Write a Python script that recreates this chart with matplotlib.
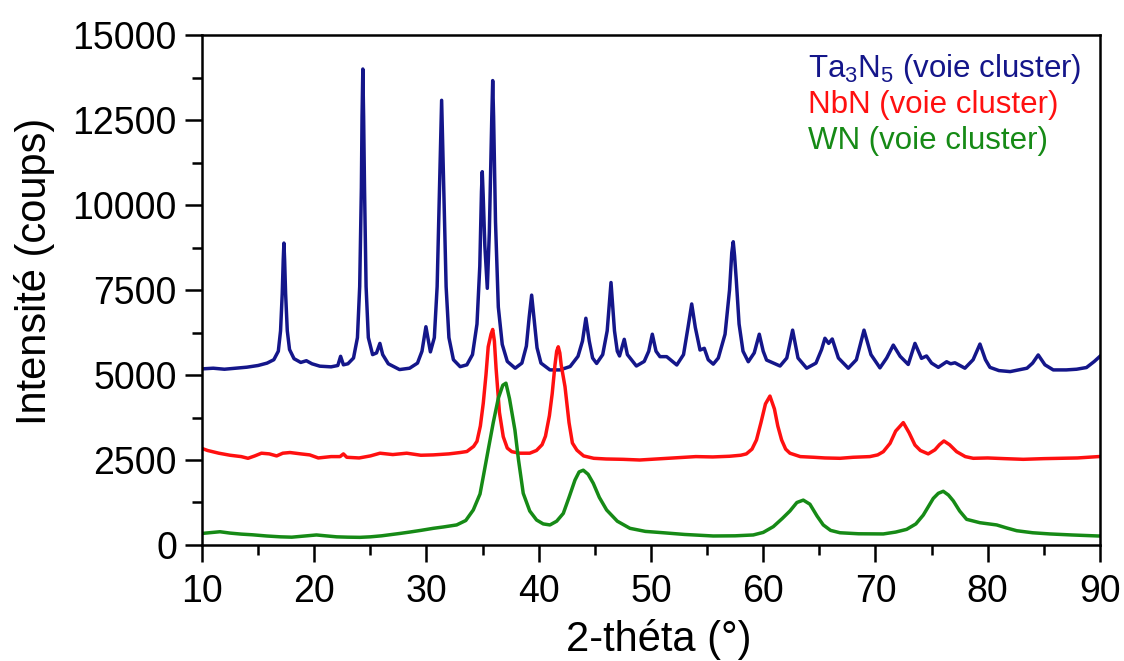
import numpy as np
import matplotlib
matplotlib.use("Agg")
import matplotlib.pyplot as plt
from matplotlib import font_manager as fm
from matplotlib.ticker import MultipleLocator

plt.rcParams["font.family"] = ["Liberation Sans", "DejaVu Sans"]
plt.rcParams["mathtext.fontset"] = "custom"
plt.rcParams["mathtext.rm"] = "Liberation Sans"

# the x texts in the picture look narrow; use a narrow face when there is one
names = {f.name for f in fm.fontManager.ttflist}
if "Liberation Sans Narrow" in names:
    x_font, x_tick_size, x_label_size = "Liberation Sans Narrow", 30, 34
else:
    x_font, x_tick_size, x_label_size = "Liberation Sans", 27, 30

# Ta3N5 (voie cluster)
ta_x = [10.0, 11.0, 12.0, 13.0, 14.0, 15.0, 15.8, 16.4, 16.8, 17.0, 17.15, 17.24, 17.3, 17.36, 17.45,
        17.6, 17.8, 18.2, 18.8, 19.3, 19.8, 20.5, 21.5, 22.1, 22.35, 22.6, 23.0, 23.5, 23.85, 24.05,
        24.2, 24.26, 24.33, 24.4, 24.48, 24.62, 24.82, 25.2, 25.55, 25.85, 26.1, 26.6, 27.6, 28.5,
        29.2, 29.6, 29.95, 30.35, 30.7, 30.95, 31.1, 31.27, 31.35, 31.43, 31.6, 31.75, 32.0, 32.4,
        33.0, 33.6, 34.1, 34.5, 34.75, 34.9, 34.97, 35.05, 35.2, 35.42, 35.6, 35.82, 35.9, 35.98,
        36.15, 36.4, 36.75, 37.2, 37.9, 38.5, 38.9, 39.15, 39.37, 39.6, 39.85, 40.2, 41.0, 41.9,
        42.8, 43.5, 43.9, 44.2, 44.5, 44.8, 45.16, 45.7, 46.1, 46.44, 46.75, 47.0, 47.2, 47.62,
        47.9, 48.7, 49.4, 49.8, 50.12, 50.45, 50.8, 51.4, 52.3, 52.9, 53.3, 53.63, 53.95, 54.37,
        54.75, 55.1, 55.55, 56.0, 56.6, 57.0, 57.2, 57.33, 57.45, 57.6, 57.85, 58.2, 58.67, 59.2,
        59.65, 60.0, 60.3, 61.5, 62.1, 62.62, 63.1, 63.87, 64.7, 65.2, 65.5, 65.83, 66.15, 66.7,
        67.58, 68.3, 68.98, 69.6, 70.4, 71.0, 71.59, 72.2, 72.92, 73.52, 74.1, 74.55, 75.0, 75.6,
        76.34, 76.7, 77.08, 77.97, 78.7, 79.31, 79.8, 80.2, 81.0, 82.0, 83.5, 84.0, 84.5, 85.1,
        85.84, 87.0, 87.92, 88.8, 89.5, 90.0]
ta_y = [5180, 5200, 5170, 5200, 5230, 5280, 5350, 5450, 5700, 6300, 7400, 8400, 8880, 8400, 7400,
        6300, 5750, 5480, 5370, 5420, 5330, 5260, 5240, 5280, 5550, 5300, 5330, 5500, 6100, 7600,
        10500, 12600, 14000, 12600, 10500, 7600, 6100, 5600, 5650, 5930, 5600, 5330, 5160, 5200,
        5350, 5700, 6420, 5680, 6100, 7600, 9700, 12000, 13080, 12000, 9700, 7600, 6100, 5450,
        5245, 5300, 5600, 6500, 8200, 10400, 10980, 10300, 8800, 7550, 9200, 12600, 13660, 12600,
        9500, 7000, 5900, 5400, 5200, 5350, 5850, 6700, 7350, 6600, 5800, 5350, 5150, 5150,
        5250, 5550, 6000, 6670, 6000, 5500, 5340, 5600, 6300, 7720, 6300, 5700, 5560, 6050,
        5600, 5265, 5400, 5700, 6200, 5700, 5540, 5540, 5295, 5600, 6400, 7090, 6400, 5735,
        5785, 5450, 5320, 5500, 6200, 7500, 8600, 8920, 8500, 7800, 6500, 5700, 5390, 5650,
        6200, 5700, 5440, 5265, 5500, 6320, 5500, 5200, 5350, 5750, 6080, 5930, 6060, 5500,
        5200, 5450, 6320, 5600, 5210, 5500, 5880, 5550, 5310, 5930, 5490, 5560, 5350, 5225,
        5390, 5330, 5360, 5200, 5450, 5910, 5450, 5225, 5130, 5100, 5200, 5350, 5590, 5300,
        5150, 5150, 5170, 5220, 5400, 5550]

# NbN (voie cluster)
nb_x = [10.0, 10.5, 11.5, 12.5, 13.5, 14.1, 14.7, 15.3, 16.0, 16.65, 17.2, 17.84, 18.8, 19.6,
        20.36, 21.5, 22.3, 22.6, 22.9, 24.0, 25.0, 25.86, 27.0, 28.24, 29.5, 30.6, 32.0, 33.0,
        33.6, 34.2, 34.5, 34.8, 35.06, 35.3, 35.5, 35.75, 35.9, 36.05, 36.2, 36.5, 36.84, 37.2,
        37.6, 38.3, 39.2, 39.8, 40.3, 40.6, 40.95, 41.2, 41.45, 41.6, 41.74, 41.88, 42.0, 42.34,
        42.7, 43.0, 43.4, 44.0, 44.9, 46.0, 47.5, 49.0, 50.5, 52.0, 54.0, 55.5, 57.0, 58.0, 58.5,
        59.0, 59.4, 59.8, 60.2, 60.6, 61.0, 61.3, 61.64, 62.0, 62.38, 63.3, 64.5, 65.5, 66.84,
        68.0, 69.5, 70.2, 70.7, 71.3, 71.8, 72.48, 73.0, 73.52, 74.0, 74.7, 75.3, 75.7, 76.1,
        76.6, 77.23, 78.0, 78.71, 80.0, 81.5, 83.17, 85.0, 86.5, 88.0, 89.85, 90.0]
nb_y = [2840, 2780, 2700, 2640, 2600, 2550, 2620, 2700, 2680, 2620, 2700, 2720, 2680, 2650,
        2560, 2600, 2600, 2680, 2580, 2560, 2620, 2700, 2660, 2700, 2640, 2650, 2680, 2720,
        2750, 2900, 3050, 3500, 4170, 5000, 5830, 6200, 6340, 6000, 5200, 3900, 3185, 2850,
        2745, 2700, 2700, 2780, 2950, 3200, 3800, 4450, 5300, 5700, 5830, 5650, 5300, 4660,
        3600, 3000, 2790, 2620, 2550, 2530, 2520, 2500, 2530, 2560, 2600, 2590, 2610, 2640, 2680,
        2820, 3090, 3600, 4150, 4380, 4000, 3500, 3090, 2820, 2700, 2600, 2580, 2560, 2550,
        2580, 2600, 2650, 2745, 2990, 3350, 3600, 3300, 2940, 2780, 2680, 2800, 2950, 3060,
        2950, 2745, 2600, 2550, 2560, 2540, 2520, 2540, 2550, 2560, 2600, 2600]

# WN (voie cluster)
wn_x = [10.0, 11.6, 12.5, 13.5, 14.5, 15.76, 17.0, 18.0, 19.0, 20.2, 21.0, 22.0, 23.0, 24.07,
        25.0, 26.0, 27.64, 28.5, 29.5, 30.6, 31.5, 32.69, 33.5, 34.17, 34.77, 35.06, 35.5, 35.95,
        36.4, 36.8, 37.08, 37.4, 37.88, 38.2, 38.62, 39.2, 39.81, 40.4, 41.0, 41.6, 42.19, 42.7,
        43.23, 43.6, 43.97, 44.4, 44.86, 45.4, 46.05, 47.0, 48.13, 49.5, 51.1, 53.0, 55.55, 57.5,
        59.11, 60.0, 60.9, 61.7, 62.38, 63.0, 63.57, 64.16, 64.8, 65.35, 66.0, 66.84, 68.5, 70.7,
        71.8, 72.78, 73.6, 74.26, 75.15, 75.6, 76.04, 76.5, 76.93, 77.5, 78.12, 79.31, 80.8,
        81.7, 82.58, 84.0, 85.55, 87.5, 89.85, 90.0]
wn_y = [340, 390, 350, 320, 300, 265, 240, 230, 260, 295, 270, 240, 230, 225,
        240, 270, 340, 380, 430, 490, 530, 590, 720, 1030, 1500, 2010, 2800, 3600,
        4315, 4700, 4760, 4300, 3380, 2500, 1520, 1000, 735, 620, 590, 700, 930, 1400,
        1910, 2150, 2200, 2080, 1815, 1400, 1030, 700, 490, 400, 360, 310, 265, 270,
        295, 370, 540, 780, 1000, 1250, 1320, 1200, 850, 590, 430, 360, 330, 325,
        380, 460, 620, 880, 1370, 1520, 1580, 1470, 1300, 1000, 755, 655, 590,
        500, 420, 360, 325, 295, 265, 265]

labels = ["Ta$_3$N$_5$ (voie cluster)", "NbN (voie cluster)", "WN (voie cluster)"]
colors = ["#14168a", "#ff1010", "#168a16"]

fig = plt.figure(figsize=(11.24, 6.61), dpi=100)
ax = fig.add_axes([0.1797, 0.1755, 0.7989, 0.7715])

ax.plot(ta_x, ta_y, color=colors[0], lw=2.5)
ax.plot(nb_x, nb_y, color=colors[1], lw=2.5)
ax.plot(wn_x, wn_y, color=colors[2], lw=2.5)

ax.set_xlim(10, 90)
ax.set_ylim(0, 15000)
ax.xaxis.set_major_locator(MultipleLocator(10))
ax.xaxis.set_minor_locator(MultipleLocator(5))
ax.yaxis.set_major_locator(MultipleLocator(2500))
ax.yaxis.set_minor_locator(MultipleLocator(1250))
ax.tick_params(which="major", direction="out", length=12, width=1.8)
ax.tick_params(which="minor", direction="out", length=7, width=1.8)
ax.tick_params(axis="y", which="major", labelsize=27, pad=6)
ax.tick_params(axis="x", which="major", labelsize=x_tick_size, pad=9)
for lab in ax.get_xticklabels():
    lab.set_fontfamily(x_font)
for s in ax.spines.values():
    s.set_linewidth(1.8)

fig.text(659 / 1124, 1 - 651 / 661, "2-théta (°)", fontsize=x_label_size, family=x_font,
         ha="center", va="baseline")
fig.text(35 / 1124, 1 - 271 / 661, "Intensité (coups)", fontsize=30, rotation=90,
         ha="center", va="center")

# legend as coloured text only
for i, (lab, col) in enumerate(zip(labels, colors)):
    ax.text(0.675, 0.933 - i * 0.07, lab, color=col, fontsize=22.5,
            transform=ax.transAxes, ha="left", va="center")

fig.savefig("out.png", dpi=100)
